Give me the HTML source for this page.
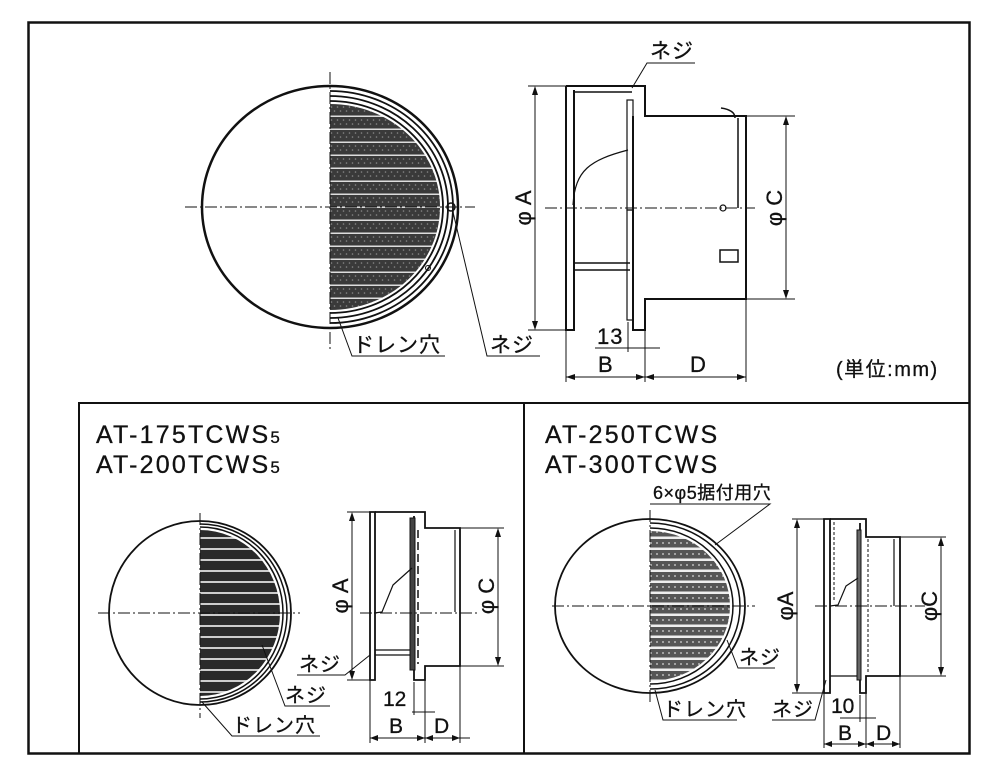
<!DOCTYPE html>
<html><head><meta charset="utf-8"><style>
html,body{margin:0;padding:0;background:#fff}
svg{display:block}
text{font-family:"Liberation Sans","Noto Sans CJK JP",sans-serif;fill:#111;stroke:#111;stroke-width:0.3}
.t{font-size:25px;letter-spacing:2.2px}
</style></head><body>
<svg width="1000" height="779" viewBox="0 0 1000 779" xmlns="http://www.w3.org/2000/svg">
<defs>
<pattern id="gr" width="6" height="13" patternUnits="userSpaceOnUse">
<rect width="6" height="13" fill="#3a3a3a"/><rect y="11.5" width="6" height="1.5" fill="#ddd"/>
<circle cx="1.5" cy="3" r="0.8" fill="#888"/><circle cx="4.5" cy="7" r="0.8" fill="#888"/>
</pattern>
<pattern id="gr2" width="6" height="11" patternUnits="userSpaceOnUse">
<rect width="6" height="11" fill="#2a2a2a"/><rect y="9" width="6" height="2" fill="#ccc"/></pattern>
<pattern id="gr3" width="6" height="11" patternUnits="userSpaceOnUse">
<rect width="6" height="11" fill="#555"/><rect y="8.5" width="6" height="2.5" fill="#eee"/><circle cx="3" cy="4" r="1" fill="#bbb"/></pattern>
<clipPath id="c1"><ellipse cx="330" cy="207" rx="110" ry="103"/></clipPath>
<clipPath id="r1"><rect x="330" y="0" width="300" height="400"/></clipPath>
<clipPath id="c2"><ellipse cx="200" cy="613" rx="80" ry="83"/></clipPath>
<clipPath id="r2"><rect x="200" y="400" width="200" height="400"/></clipPath>
<clipPath id="c3"><ellipse cx="650" cy="606" rx="80" ry="75"/></clipPath>
<clipPath id="r3"><rect x="650" y="400" width="200" height="400"/></clipPath>
</defs>
<g fill="none" stroke="#111">
<rect x="28.5" y="22.5" width="941" height="731" stroke-width="2.5"/>
<polyline points="79,753 79,403 969,403" stroke-width="2"/>
<line x1="524" y1="403" x2="524" y2="753" stroke-width="2"/>
</g>

<!-- TOP front view -->
<rect x="330" y="100" width="115" height="215" fill="url(#gr)" clip-path="url(#c1)"/>
<g fill="none" stroke="#111">
<ellipse cx="330" cy="207" rx="128" ry="121" stroke-width="2.5"/>
<g clip-path="url(#r1)" stroke-width="1.8">
<ellipse cx="330" cy="207" rx="123" ry="116"/>
<ellipse cx="330" cy="207" rx="118" ry="111"/>
<ellipse cx="330" cy="207" rx="113" ry="106"/>
</g>
<line x1="330" y1="72" x2="330" y2="350" stroke-width="1" stroke-dasharray="12,3,2,3"/>
<line x1="185" y1="207" x2="475" y2="207" stroke-width="1" stroke-dasharray="12,3,2,3"/>
<circle cx="451" cy="207" r="4" stroke-width="1.5"/>
<circle cx="428" cy="268" r="2.5" stroke-width="1"/>
<polyline points="338,318 352,356 445,356" stroke-width="1"/>
<polyline points="453,212 487,356 540,356" stroke-width="1"/>
</g>
<text x="353" y="352" font-size="21" letter-spacing="1">ドレン穴</text>
<text x="490" y="352" font-size="21" letter-spacing="1">ネジ</text>

<!-- TOP side view -->
<g fill="none" stroke="#111">
<path d="M566,86 L645,86 L645,116 L746,116 L746,299 L645,299 L645,330 L633,330 L633,116" stroke-width="2"/>
<path d="M566,86 L566,330 L574,330 L574,90" stroke-width="2"/>
<line x1="574" y1="92" x2="632" y2="92" stroke-width="1.5"/>
<rect x="627" y="100" width="6" height="110" stroke-width="1.2"/>
<rect x="627" y="210" width="6" height="110" stroke-width="1.2"/>
<line x1="738" y1="118" x2="738" y2="208" stroke-width="1.5"/>
<line x1="574" y1="263" x2="630" y2="263" stroke-width="1.5"/>
<line x1="574" y1="270" x2="630" y2="270" stroke-width="1.5"/>
<path d="M573,205 C575,170 590,160 628,150" stroke-width="1.2"/>
<circle cx="723" cy="208" r="3" stroke-width="1.2"/>
<rect x="720" y="250" width="18" height="12" stroke-width="1.5"/>
<path d="M721,108 Q735,110 735,118" stroke-width="1.5"/>
<line x1="545" y1="208" x2="755" y2="208" stroke-width="1" stroke-dasharray="12,3,2,3"/>
<g stroke-width="1">
<line x1="528" y1="86" x2="566" y2="86"/><line x1="528" y1="330" x2="566" y2="330"/>
<line x1="535" y1="88" x2="535" y2="328"/>
<line x1="746" y1="116" x2="795" y2="116"/><line x1="746" y1="299" x2="795" y2="299"/>
<line x1="786" y1="118" x2="786" y2="297"/>
<line x1="566" y1="330" x2="566" y2="382"/><line x1="645" y1="330" x2="645" y2="382"/><line x1="746" y1="299" x2="746" y2="382"/>
<line x1="566" y1="377" x2="746" y2="377"/>
<line x1="628" y1="322" x2="628" y2="352"/>
<line x1="595" y1="348" x2="660" y2="348"/>
<polyline points="632,88 647,63 695,63"/>
</g>
</g>
<g fill="#111">
<path d="M535,86 l-3,9 h6z"/><path d="M535,330 l-3,-9 h6z"/>
<path d="M786,116 l-3,9 h6z"/><path d="M786,299 l-3,-9 h6z"/>
<path d="M566,377 l9,-3 v6z"/><path d="M645,377 l-9,-3 v6z"/><path d="M645,377 l9,-3 v6z"/><path d="M746,377 l-9,-3 v6z"/>
</g>
<text x="650" y="58" font-size="21" letter-spacing="1">ネジ</text>
<text x="597" y="344" font-size="22" letter-spacing="1">13</text>
<text x="598" y="372" font-size="22">B</text>
<text x="690" y="372" font-size="22">D</text>
<text x="836" y="376" font-size="20" letter-spacing="1.5">(単位:mm)</text>
<text transform="translate(531,208) rotate(-90)" font-size="22" text-anchor="middle">φ A</text>
<text transform="translate(782,208) rotate(-90)" font-size="22" text-anchor="middle">φ C</text>

<!-- BOTTOM LEFT -->
<text x="96" y="443" class="t">AT-175TCWS<tspan font-size="17">5</tspan></text>
<text x="96" y="473" class="t">AT-200TCWS<tspan font-size="17">5</tspan></text>
<rect x="200" y="525" width="90" height="180" fill="url(#gr2)" clip-path="url(#c2)"/>
<g fill="none" stroke="#111">
<ellipse cx="200" cy="613" rx="91" ry="92" stroke-width="1.8"/>
<g clip-path="url(#r2)" stroke-width="1.5">
<ellipse cx="200" cy="613" rx="87" ry="89"/>
<ellipse cx="200" cy="613" rx="83" ry="86"/>
</g>
<line x1="200" y1="513" x2="200" y2="718" stroke-width="1" stroke-dasharray="12,3,2,3"/>
<line x1="98" y1="613" x2="300" y2="613" stroke-width="1" stroke-dasharray="12,3,2,3"/>
<polyline points="202,702 232,736 320,736" stroke-width="1"/>
<polyline points="262,645 285,706 330,706" stroke-width="1"/>
<polyline points="370,655 345,675 297,675" stroke-width="1"/>
<path d="M370,512 L370,680 L375,680 L375,512 Z" stroke-width="1.8"/>
<path d="M375,512 L425,512 L425,528 L460,528 L460,666 L425,666 L425,680 L414,680 L414,516" stroke-width="1.8"/>
<rect x="410" y="518" width="5" height="152" fill="#444" stroke-width="1"/>
<line x1="418" y1="530" x2="418" y2="664" stroke-width="1.5" stroke-dasharray="8,4"/>
<line x1="455" y1="530" x2="455" y2="612" stroke-width="1.2"/>
<line x1="375" y1="650" x2="410" y2="650" stroke-width="1.2"/>
<line x1="375" y1="655" x2="410" y2="655" stroke-width="1.2"/>
<path d="M374,613 L382,612 L393,585 L412,568" stroke-width="1.2"/>
<line x1="360" y1="613" x2="480" y2="613" stroke-width="1" stroke-dasharray="12,3,2,3"/>
<g stroke-width="1">
<line x1="347" y1="512" x2="370" y2="512"/><line x1="347" y1="680" x2="370" y2="680"/>
<line x1="352" y1="514" x2="352" y2="678"/>
<line x1="460" y1="528" x2="504" y2="528"/><line x1="460" y1="666" x2="504" y2="666"/>
<line x1="498" y1="530" x2="498" y2="664"/>
<line x1="370" y1="680" x2="370" y2="743"/><line x1="425" y1="680" x2="425" y2="743"/><line x1="460" y1="666" x2="460" y2="743"/>
<line x1="370" y1="738" x2="470" y2="738"/>
<line x1="414" y1="682" x2="414" y2="715"/>
<line x1="412" y1="712" x2="435" y2="712"/>
</g>
</g>
<g fill="#111">
<path d="M352,512 l-3,9 h6z"/><path d="M352,680 l-3,-9 h6z"/>
<path d="M498,528 l-3,9 h6z"/><path d="M498,666 l-3,-9 h6z"/>
<path d="M370,738 l8,-3 v6z"/><path d="M425,738 l-8,-3 v6z"/><path d="M425,738 l8,-3 v6z"/><path d="M460,738 l-8,-3 v6z"/>
</g>
<text x="299" y="671" font-size="20" letter-spacing="1">ネジ</text>
<text x="285" y="702" font-size="20" letter-spacing="1">ネジ</text>
<text x="232" y="732" font-size="20" letter-spacing="1">ドレン穴</text>
<text x="383" y="706" font-size="21">12</text>
<text x="389" y="733" font-size="21">B</text>
<text x="434" y="733" font-size="21">D</text>
<text transform="translate(348,596) rotate(-90)" font-size="22" text-anchor="middle">φ A</text>
<text transform="translate(494,596) rotate(-90)" font-size="22" text-anchor="middle">φ C</text>

<!-- BOTTOM RIGHT -->
<text x="545" y="443" class="t">AT-250TCWS</text>
<text x="545" y="473" class="t">AT-300TCWS</text>
<rect x="650" y="525" width="90" height="165" fill="url(#gr3)" clip-path="url(#c3)"/>
<g fill="none" stroke="#111">
<ellipse cx="650" cy="606" rx="95" ry="87" stroke-width="1.8"/>
<g clip-path="url(#r3)" stroke-width="1.5">
<ellipse cx="650" cy="606" rx="90" ry="83"/>
<ellipse cx="650" cy="606" rx="83" ry="78"/>
</g>
<line x1="650" y1="510" x2="650" y2="705" stroke-width="1" stroke-dasharray="12,3,2,3"/>
<line x1="552" y1="606" x2="755" y2="606" stroke-width="1" stroke-dasharray="12,3,2,3"/>
<polyline points="650,504 770,504 715,545" stroke-width="1"/>
<polyline points="727,640 738,668 775,668" stroke-width="1"/>
<polyline points="655,690 663,720 737,720" stroke-width="1"/>
<polyline points="826,680 815,720 772,720" stroke-width="1"/>
<path d="M824,519 L824,693 L830,693 L830,519 Z" stroke-width="1.8"/>
<path d="M830,519 L866,519 L866,537 L900,537 L900,676 L866,676 L866,693 L860,693 L860,523" stroke-width="1.8"/>
<rect x="857" y="530" width="4" height="150" fill="#666" stroke-width="1"/>
<line x1="834" y1="522" x2="834" y2="600" stroke-width="1" stroke-dasharray="3,2"/>
<line x1="868" y1="539" x2="868" y2="674" stroke-width="1" stroke-dasharray="3,2"/>
<line x1="894" y1="539" x2="894" y2="606" stroke-width="1.2"/>
<line x1="830" y1="676" x2="857" y2="676" stroke-width="1.2"/>
<path d="M830,606 L838,605 L846,586 L858,578" stroke-width="1.2"/>
<line x1="815" y1="606" x2="925" y2="606" stroke-width="1" stroke-dasharray="12,3,2,3"/>
<g stroke-width="1">
<line x1="792" y1="519" x2="824" y2="519"/><line x1="792" y1="693" x2="824" y2="693"/>
<line x1="797" y1="521" x2="797" y2="691"/>
<line x1="900" y1="537" x2="946" y2="537"/><line x1="900" y1="676" x2="946" y2="676"/>
<line x1="941" y1="539" x2="941" y2="674"/>
<line x1="824" y1="693" x2="824" y2="748"/><line x1="866" y1="693" x2="866" y2="748"/><line x1="900" y1="676" x2="900" y2="748"/>
<line x1="824" y1="744" x2="900" y2="744"/>
<line x1="860" y1="695" x2="860" y2="722"/>
<line x1="840" y1="718" x2="876" y2="718"/>
</g>
</g>
<g fill="#111">
<path d="M797,519 l-3,9 h6z"/><path d="M797,693 l-3,-9 h6z"/>
<path d="M941,537 l-3,9 h6z"/><path d="M941,676 l-3,-9 h6z"/>
<path d="M824,744 l8,-3 v6z"/><path d="M866,744 l-8,-3 v6z"/><path d="M866,744 l8,-3 v6z"/><path d="M900,744 l-8,-3 v6z"/>
</g>
<text x="653" y="499" font-size="18" letter-spacing="0.5">6×φ5据付用穴</text>
<text x="739" y="664" font-size="20" letter-spacing="1">ネジ</text>
<text x="663" y="716" font-size="20" letter-spacing="1">ドレン穴</text>
<text x="772" y="716" font-size="20" letter-spacing="1">ネジ</text>
<text x="831" y="713" font-size="21">10</text>
<text x="838" y="740" font-size="21">B</text>
<text x="876" y="740" font-size="21">D</text>
<text transform="translate(793,606) rotate(-90)" font-size="22" text-anchor="middle">φA</text>
<text transform="translate(937,606) rotate(-90)" font-size="22" text-anchor="middle">φC</text>
</svg>
</body></html>
